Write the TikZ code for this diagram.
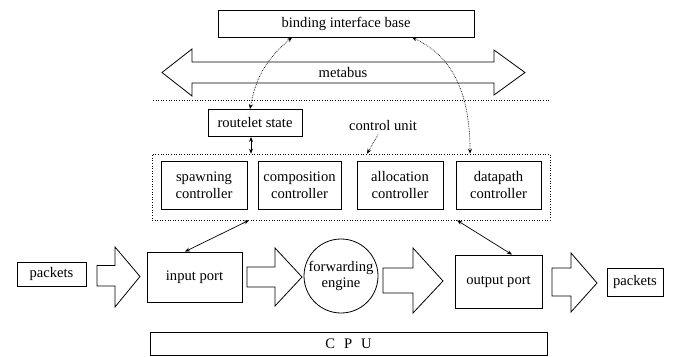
\documentclass[tikz,border=0pt]{standalone}
\usepackage{fontspec}
\setmainfont{Liberation Serif}
\usetikzlibrary{arrows.meta}
\begin{document}
\begin{tikzpicture}[x=1pt,y=-1pt,
  every node/.style={font=\fontsize{14.6}{16.5}\selectfont},
  box/.style={draw, line width=0.8pt, align=center, inner sep=0pt},
  cbox/.style={draw, dotted, line width=0.6pt, inner sep=0pt},
  blk/.style={draw, line width=0.8pt, line join=miter},
  sarr/.style={line width=0.7pt, {Stealth[length=5pt,width=4pt]}-{Stealth[length=5pt,width=4pt]}},
  darr/.style={densely dotted, line width=0.7pt, {Stealth[length=5pt,width=4pt]}-{Stealth[length=5pt,width=4pt]}},
  larr/.style={densely dotted, line width=0.7pt, -{Stealth[length=5pt,width=4pt]}}]
\useasboundingbox (0,0) rectangle (679,356);

% top
\node[box, minimum width=256pt, minimum height=27pt] (bib) at (346,23.5) {binding interface base};
\draw[blk] (162,72.5) -- (192,49) -- (192,62) -- (494,62) -- (494,50) -- (525,72.5)
  -- (494,95) -- (494,83) -- (192,83) -- (192,96) -- cycle;
\node (metabus) at (343,73) {metabus};

% divider
\draw[dotted, line width=0.6pt] (153,100) -- (550,100);

% routelet & control unit
\node[box, minimum width=94pt, minimum height=27pt] (routelet) at (255,123) {routelet state};
\node[cbox, minimum width=398pt, minimum height=66pt] (cu) at (351,187) {};
\node (culabel) at (383,126) {control unit};
\node[box, minimum width=86pt, minimum height=48pt] (spawn) at (204,185) {spawning\\controller};
\node[box, minimum width=83pt, minimum height=48pt] (comp) at (299.5,185) {composition\\controller};
\node[box, minimum width=86pt, minimum height=48pt] (alloc) at (400,185) {allocation\\controller};
\node[box, minimum width=85pt, minimum height=48pt] (dpath) at (498.5,185) {datapath\\controller};

% bottom row
\node[box, minimum width=69pt, minimum height=24pt] (pin) at (51.5,274) {packets};
\node[box, minimum width=95pt, minimum height=50pt] (input) at (194.5,277) {input port};
\node[draw, circle, line width=0.8pt, minimum size=74pt, inner sep=0pt, align=center] (fwd) at (341,276) {forwarding\\engine};
\node[box, minimum width=87pt, minimum height=53pt] (output) at (498.5,281.5) {output port};
\node[box, minimum width=56pt, minimum height=28pt] (pout) at (635,282) {packets};
\node[box, minimum width=397pt, minimum height=23pt] (cpu) at (348.5,343.5) {C\hspace{9pt}P\hspace{9pt}U};

% block arrows
\draw[blk] (97,265.5) -- (115,265.5) -- (115,247) -- (140,276.5) -- (115,307) -- (115,286) -- (97,286) -- cycle;
\draw[blk] (247,267) -- (275,267) -- (275,248) -- (302,277) -- (275,306) -- (275,287) -- (247,287) -- cycle;
\draw[blk] (383,268) -- (413,268) -- (413,248) -- (443,281) -- (413,313) -- (413,293) -- (383,293) -- cycle;
\draw[blk] (552,268) -- (571,268) -- (571,253) -- (597,283) -- (571,312) -- (571,296) -- (552,296) -- cycle;

% connectors
\draw[sarr] ([xshift=-4pt]routelet.south) -- ([xshift=-4pt]routelet.south |- cu.north);
\draw[darr] ([xshift=-5pt]routelet.north) to[out=80,in=-140] ([xshift=-54pt]bib.south);
\draw[darr] (cu.north -| 470,0) to[out=90,in=-25] ([xshift=66pt]bib.south);
\draw[larr] ([xshift=-5pt]culabel.south) -- (cu.north -| 367,0);
\draw[sarr] (cu.south -| 249,0) -- (input.north -| 185,0);
\draw[sarr] (cu.south -| 457,0) -- (output.north -| 512,0);
\end{tikzpicture}
\end{document}
